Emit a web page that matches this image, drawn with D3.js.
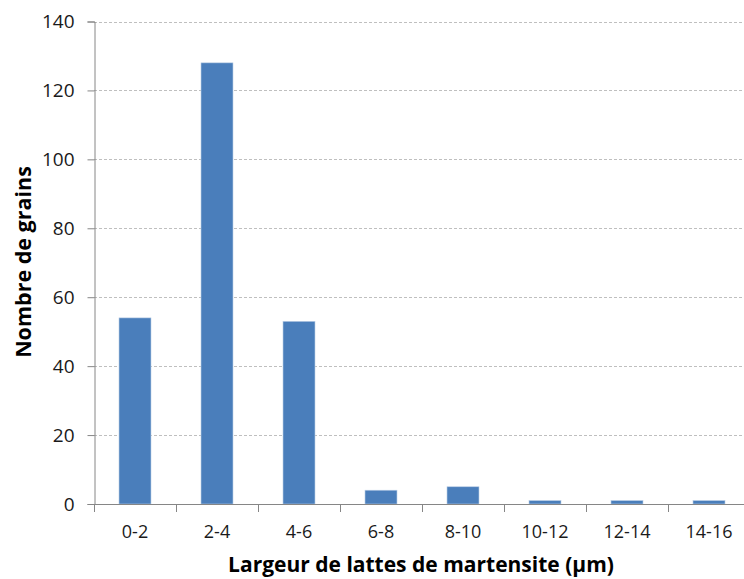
<!DOCTYPE html>
<html><head><meta charset="utf-8">
<script src="https://cdn.jsdelivr.net/npm/d3@7"></script>
<style>body{margin:0;background:#fff}svg{display:block}</style>
</head><body>
<script>
const categories = ["0-2","2-4","4-6","6-8","8-10","10-12","12-14","14-16"];
const counts = [54,128,53,4,5,1,1,1];
const yTicks = [0,20,40,60,80,100,120,140];
const xTitle = "Largeur de lattes de martensite (µm)";
const yTitle = "Nombre de grains";

const W = 744, H = 579;
const svg = d3.select("body").append("svg").attr("width", W).attr("height", H);
const font = "'Open Sans', 'Liberation Sans', sans-serif";
const x = d3.scaleBand().domain(categories).range([94, 750]).paddingInner(0.61).paddingOuter(0.305);
const y = d3.scaleLinear().domain([0, 140]).range([504, 21.5]);

// gridlines
svg.append("g").selectAll("line").data(yTicks.filter(d => d > 0)).join("line")
  .attr("x1", 94).attr("x2", 744)
  .attr("y1", d => Math.round(y(d)) + 0.5).attr("y2", d => Math.round(y(d)) + 0.5)
  .attr("stroke", "#bfbfbf").attr("stroke-dasharray", "3,2").attr("stroke-width", 1);

// bars
svg.append("g").selectAll("rect").data(counts).join("rect")
  .attr("x", (d, i) => x(categories[i]))
  .attr("width", x.bandwidth())
  .attr("y", d => y(d))
  .attr("height", d => y(0) - y(d))
  .attr("fill", "#4a7ebb")
  .attr("stroke", "#b9cde5").attr("stroke-width", 0.6);

// y axis
const yAxis = svg.append("g").attr("transform", "translate(94.5,0)")
  .call(d3.axisLeft(y).tickValues(yTicks).tickSize(7).tickPadding(13));
yAxis.select(".domain").attr("stroke", "#868686");
yAxis.selectAll(".tick line").attr("stroke", "#868686");
yAxis.selectAll("text").attr("font-family", font).attr("font-size", 19).attr("fill", "#1a1a1a");

// x axis
const xAxis = svg.append("g").attr("transform", "translate(0,504.5)")
  .call(d3.axisBottom(x).tickSize(0).tickPadding(21));
xAxis.select(".domain").attr("stroke", "#868686").attr("d", "M94,0H744");
xAxis.selectAll("text").attr("font-family", font).attr("font-size", 18).attr("fill", "#1a1a1a");
// boundary ticks
const bounds = categories.map(c => x(c) - x.step() * x.paddingInner() / 2).concat([750]);
svg.append("g").selectAll("line").data(bounds.filter(b => b <= 744)).join("line")
  .attr("x1", d => Math.round(d) + 0.5).attr("x2", d => Math.round(d) + 0.5)
  .attr("y1", 504).attr("y2", 512).attr("stroke", "#868686");

// titles
svg.append("text").attr("x", 421).attr("y", 572).attr("text-anchor", "middle")
  .attr("font-family", font).attr("font-size", 21).attr("font-weight", "bold").attr("fill", "#000")
  .text(xTitle);
svg.append("text").attr("transform", "translate(31,262) rotate(-90)").attr("text-anchor", "middle")
  .attr("font-family", font).attr("font-size", 21.5).attr("font-weight", "bold").attr("fill", "#000")
  .text(yTitle);
</script>
</body></html>
